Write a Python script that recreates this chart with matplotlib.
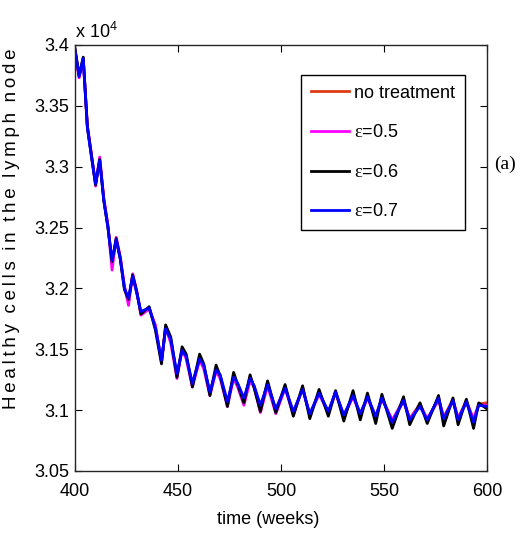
import matplotlib
matplotlib.use('Agg')
import matplotlib.pyplot as plt

plt.rcParams['font.family'] = ['Liberation Sans', 'DejaVu Sans']
plt.rcParams['mathtext.fontset'] = 'custom'
plt.rcParams['mathtext.rm'] = 'Liberation Serif'
plt.rcParams['mathtext.sf'] = 'Liberation Sans'

# time points (weeks) and cell counts (x 10^4)
weeks = [400, 402, 404, 406, 408, 410, 412, 414, 416, 418, 420, 422, 424, 426, 428,
         430, 432, 436, 439, 442, 444, 446.5, 449.5, 452, 454, 457, 460.5, 462.5,
         465.5, 468.5, 470.5, 474, 477, 479, 482, 485, 487, 490, 493.5, 497.5, 502,
         506, 510.5, 514, 518.5, 523, 526.5, 530.5, 535, 538.5, 542, 546, 549, 554,
         559.5, 562.5, 567.5, 571, 576.5, 579, 583.5, 586, 590, 593.5, 596, 600]

no_treatment = [3.396, 3.374, 3.389, 3.333, 3.309, 3.286, 3.306, 3.273, 3.251, 3.220,
                3.240, 3.225, 3.201, 3.189, 3.211, 3.197, 3.180, 3.184, 3.169, 3.140,
                3.168, 3.157, 3.128, 3.150, 3.143, 3.121, 3.143, 3.136, 3.114, 3.133,
                3.128, 3.105, 3.128, 3.121, 3.108, 3.127, 3.119, 3.101, 3.123, 3.100,
                3.119, 3.098, 3.118, 3.096, 3.115, 3.098, 3.115, 3.095, 3.112, 3.097,
                3.111, 3.094, 3.111, 3.091, 3.109, 3.093, 3.105, 3.092, 3.110, 3.094,
                3.109, 3.093, 3.108, 3.092, 3.105, 3.106]

eps05 = [3.395, 3.373, 3.388, 3.334, 3.310, 3.284, 3.308, 3.274, 3.252, 3.215,
         3.242, 3.226, 3.202, 3.186, 3.212, 3.198, 3.178, 3.183, 3.170, 3.139,
         3.168, 3.155, 3.126, 3.150, 3.142, 3.119, 3.141, 3.134, 3.112, 3.132,
         3.126, 3.103, 3.126, 3.119, 3.104, 3.124, 3.119, 3.098, 3.120, 3.097,
         3.118, 3.096, 3.118, 3.096, 3.113, 3.098, 3.114, 3.095, 3.111, 3.096,
         3.110, 3.094, 3.109, 3.092, 3.107, 3.093, 3.104, 3.093, 3.108, 3.094,
         3.107, 3.094, 3.106, 3.093, 3.104, 3.104]

eps06 = [3.397, 3.375, 3.390, 3.333, 3.309, 3.285, 3.306, 3.272, 3.250, 3.222,
         3.241, 3.224, 3.199, 3.191, 3.211, 3.197, 3.179, 3.185, 3.166, 3.138,
         3.170, 3.160, 3.127, 3.152, 3.146, 3.119, 3.146, 3.138, 3.112, 3.137,
         3.128, 3.103, 3.131, 3.121, 3.106, 3.129, 3.118, 3.099, 3.124, 3.098,
         3.121, 3.095, 3.120, 3.093, 3.117, 3.095, 3.116, 3.091, 3.116, 3.092,
         3.114, 3.089, 3.113, 3.085, 3.111, 3.088, 3.106, 3.089, 3.112, 3.087,
         3.110, 3.088, 3.109, 3.085, 3.106, 3.101]

eps07 = [3.396, 3.374, 3.389, 3.332, 3.308, 3.286, 3.305, 3.272, 3.250, 3.223,
         3.240, 3.224, 3.200, 3.192, 3.210, 3.196, 3.181, 3.184, 3.168, 3.141,
         3.167, 3.158, 3.130, 3.149, 3.144, 3.122, 3.142, 3.137, 3.115, 3.133,
         3.129, 3.107, 3.127, 3.122, 3.110, 3.126, 3.120, 3.104, 3.121, 3.101,
         3.118, 3.099, 3.117, 3.097, 3.114, 3.099, 3.115, 3.096, 3.112, 3.097,
         3.111, 3.095, 3.110, 3.090, 3.108, 3.092, 3.103, 3.092, 3.110, 3.093,
         3.108, 3.092, 3.107, 3.090, 3.104, 3.103]

fig = plt.figure(figsize=(5.27, 5.34), dpi=100)
ax = fig.add_axes([0.1423, 0.118, 0.7817, 0.7978])

lw = 2.0
ax.plot(weeks, no_treatment, color='#de3b14', lw=lw, label='no treatment')
ax.plot(weeks, eps05, color='#ff00ff', lw=lw, label=r'$\mathrm{ε}$=0.5')
ax.plot(weeks, eps06, color='black', lw=lw, label=r'$\mathrm{ε}$=0.6')
ax.plot(weeks, eps07, color='#0000ff', lw=lw, label=r'$\mathrm{ε}$=0.7')

ax.set_xlim(400, 600)
ax.set_ylim(3.05, 3.4)
ax.set_xticks([400, 450, 500, 550, 600])
ax.set_yticks([3.05, 3.1, 3.15, 3.2, 3.25, 3.3, 3.35, 3.4])
ax.set_yticklabels(['3.05', '3.1', '3.15', '3.2', '3.25', '3.3', '3.35', '3.4'])
ax.tick_params(direction='in', length=5, width=0.8, labelsize=13,
               top=True, right=True)
ax.tick_params(axis='x', pad=9)
ax.tick_params(axis='y', pad=4)
for s in ax.spines.values():
    s.set_linewidth(1.0)
    s.set_color('#262626')

ax.set_xlabel('time (weeks)', fontsize=13)
ax.xaxis.set_label_coords(0.468, -0.093)
ax.set_ylabel('H\u2009e\u2009a\u2009l\u2009t\u2009h\u2009y  c\u2009e\u2009l\u2009l\u2009s  i\u2009n  t\u2009h\u2009e  l\u2009y\u2009m\u2009p\u2009h  n\u2009o\u2009d\u2009e',
              fontsize=13.5)
ax.yaxis.set_label_coords(-0.133, 0.568)

ax.text(0.0, 1.008, r'x 10$^{\mathsf{4}}$', transform=ax.transAxes,
        fontsize=13, ha='left', va='bottom')
ax.text(609, 3.302, '(a)', family='Liberation Serif', fontsize=14,
        ha='center', va='center', clip_on=False)

leg = ax.legend(loc='upper right', bbox_to_anchor=(0.947, 0.930), borderaxespad=0,
                fontsize=13, handlelength=2.1, handletextpad=0.3,
                labelspacing=1.25, borderpad=0.55, fancybox=False, framealpha=1)
leg.get_frame().set_edgecolor('black')
leg.get_frame().set_linewidth(1.0)

fig.savefig('out.png', dpi=100)
